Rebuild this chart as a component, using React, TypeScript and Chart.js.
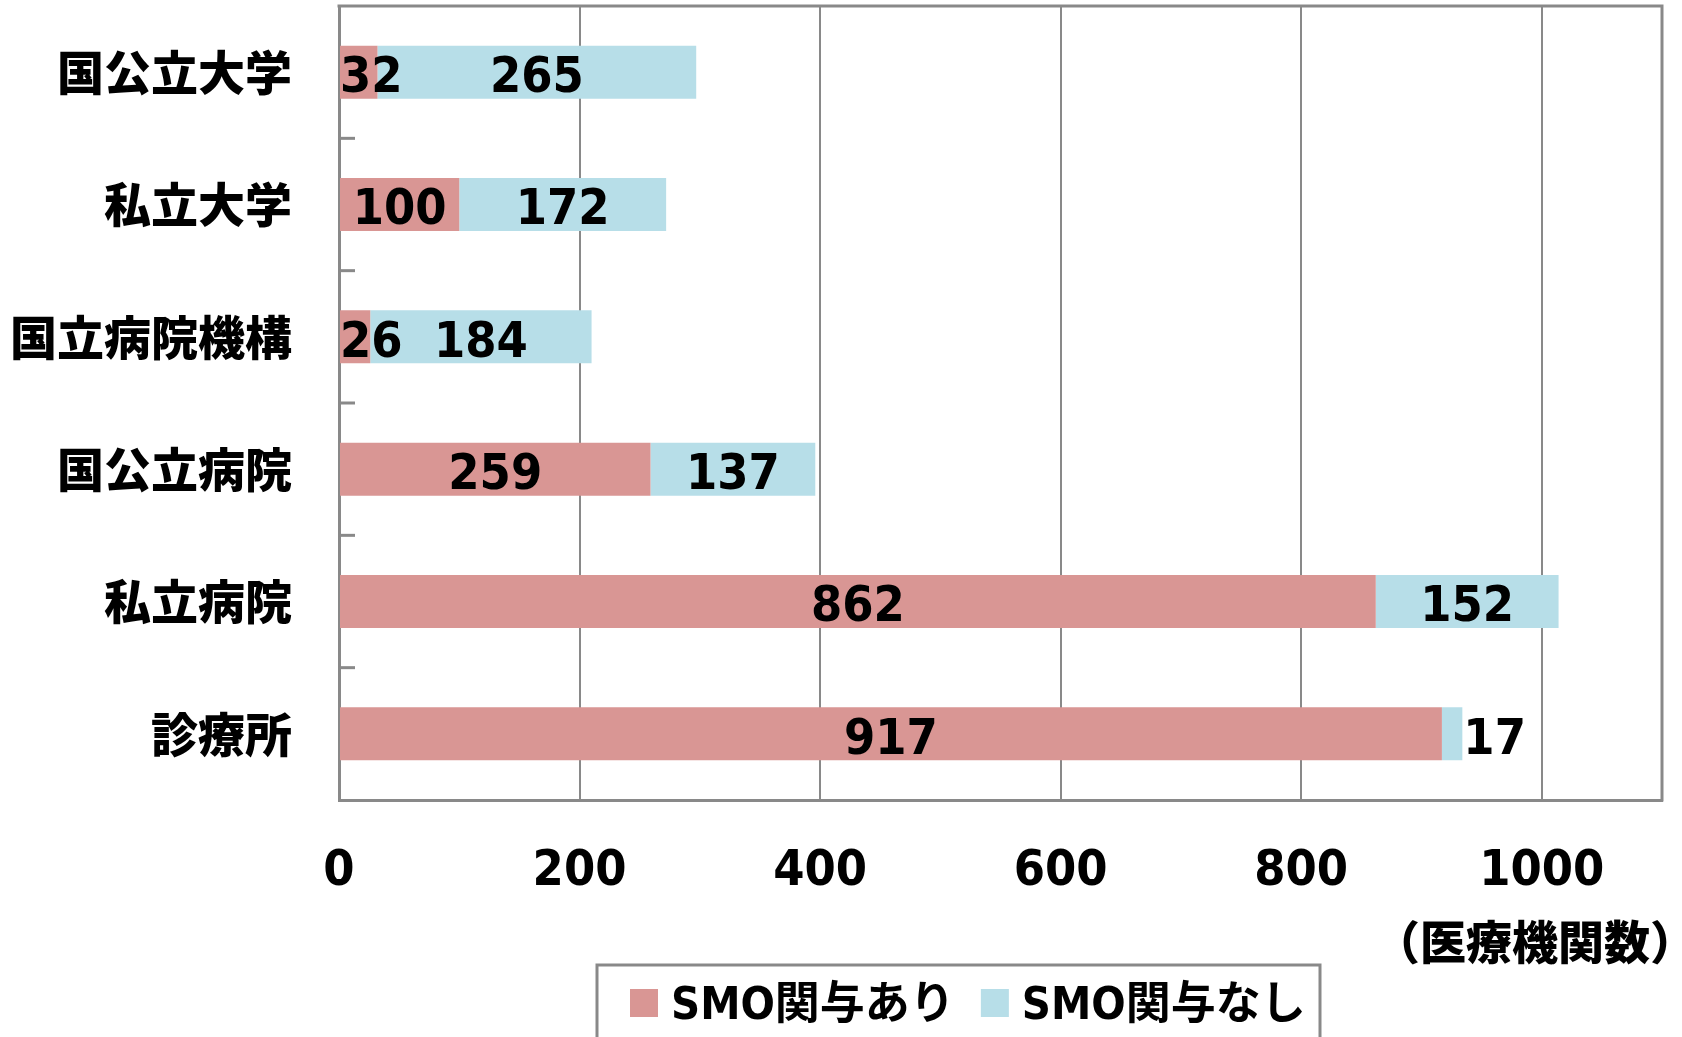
import React, { useEffect, useRef } from 'react';
import { Chart, registerables } from 'chart.js';

Chart.register(...registerables);

// ---- data ----
const categories = ['国公立大学', '私立大学', '国立病院機構', '国公立病院', '私立病院', '診療所'];
const withSMO = [32, 100, 26, 259, 862, 917];
const withoutSMO = [265, 172, 184, 137, 152, 17];
const seriesLabels = ['SMO関与あり', 'SMO関与なし'];
const seriesColors = ['#D99694', '#B7DEE8'];
const xTickValues = [0, 200, 400, 600, 800, 1000];
const xMin = 0;
const xMax = 1100;
const unitLabel = '（医療機関数）';

// ---- styles ----
const LATIN = '"DejaVu Sans Condensed", "DejaVu Sans", "Noto Sans CJK JP", sans-serif';
const CJK = '"Noto Sans CJK JP", sans-serif';
const GRAY = '#898989';

const decorPlugin = {
  id: 'decor',
  afterDatasetsDraw(chart: any) {
    const { ctx, chartArea: ca } = chart;
    ctx.save();
    ctx.font = `bold 50px ${LATIN}`;
    ctx.fillStyle = '#000';
    ctx.textBaseline = 'middle';
    ctx.textAlign = 'left';
    const nDs = chart.data.datasets.length;
    chart.data.datasets.forEach((ds: any, di: number) => {
      const meta = chart.getDatasetMeta(di);
      meta.data.forEach((bar: any, i: number) => {
        const v = ds.data[i];
        const text = String(v);
        const w = ctx.measureText(text).width;
        const left = Math.min(bar.x, bar.base);
        const right = Math.max(bar.x, bar.base);
        let tx = (left + right) / 2 - w / 2;
        if (w > right - left) {
          if (di === nDs - 1) tx = right + 1;
          else tx = Math.max(tx, ca.left + 1);
        }
        ctx.fillText(text, tx, bar.y + 7);
      });
    });
    ctx.restore();
  },
  afterDraw(chart: any) {
    const { ctx, chartArea: ca, scales } = chart;
    const y = scales.y;
    ctx.save();
    ctx.strokeStyle = GRAY;
    ctx.lineWidth = 3;
    // top & right frame
    ctx.beginPath();
    ctx.moveTo(ca.left - 1.5, ca.top);
    ctx.lineTo(ca.right, ca.top);
    ctx.lineTo(ca.right, ca.bottom + 1.5);
    ctx.stroke();
    // inward category tick marks
    for (let i = 1; i < categories.length; i++) {
      const py = (y.getPixelForValue(i - 1) + y.getPixelForValue(i)) / 2;
      ctx.beginPath();
      ctx.moveTo(ca.left, py);
      ctx.lineTo(ca.left + 16, py);
      ctx.stroke();
    }
    // unit label
    ctx.fillStyle = '#000';
    ctx.font = `900 46px ${CJK}`;
    ctx.textAlign = 'center';
    ctx.textBaseline = 'middle';
    ctx.fillText(unitLabel, 1535, 942);

    // legend
    const boxL = 597, boxR = 1320, boxT = 965, boxB = 1045;
    ctx.strokeRect(boxL, boxT, boxR - boxL, boxB - boxT);
    ctx.font = `bold 45px ${LATIN}`;
    ctx.textAlign = 'left';
    let x = 630;
    chart.data.datasets.forEach((ds: any) => {
      ctx.fillStyle = ds.backgroundColor;
      ctx.fillRect(x, 989, 28, 28);
      ctx.fillStyle = '#000';
      const tx = x + 41;
      ctx.fillText(ds.label, tx, 1007);
      x = tx + ctx.measureText(ds.label).width + 26;
    });
    ctx.restore();
  },
};

export default function App() {
  const ref = useRef<HTMLCanvasElement | null>(null);

  useEffect(() => {
    document.body.style.margin = '0';
    const canvas = ref.current;
    if (!canvas) return;
    const chart = new Chart(canvas, {
      type: 'bar',
      data: {
        labels: categories,
        datasets: [
          { label: seriesLabels[0], data: withSMO, backgroundColor: seriesColors[0], categoryPercentage: 1, barPercentage: 0.4 },
          { label: seriesLabels[1], data: withoutSMO, backgroundColor: seriesColors[1], categoryPercentage: 1, barPercentage: 0.4 },
        ],
      },
      options: {
        indexAxis: 'y',
        responsive: false,
        animation: false,
        events: [],
        layout: { padding: { top: 6, right: 20, left: 0, bottom: 0 } },
        plugins: {
          legend: { display: false },
          tooltip: { enabled: false },
          title: { display: false },
        },
        scales: {
          x: {
            type: 'linear',
            stacked: true,
            min: xMin,
            max: xMax,
            afterBuildTicks: (s: any) => {
              s.ticks = xTickValues.map((v) => ({ value: v }));
            },
            afterFit: (s: any) => {
              s.height = 237;
              s.paddingLeft = 0;
              s.paddingRight = 0;
              s.paddingTop = 0;
              s.paddingBottom = 0;
            },
            grid: { color: GRAY, lineWidth: 2, drawTicks: false },
            border: { color: GRAY, width: 3 },
            ticks: {
              font: { family: LATIN, size: 50, weight: 'bold' },
              color: '#000',
              padding: 42,
              maxRotation: 0,
              autoSkip: false,
              callback: (v: any) => String(v),
            },
          },
          y: {
            type: 'category',
            stacked: true,
            afterFit: (s: any) => {
              s.width = 339;
              s.paddingLeft = 0;
              s.paddingRight = 0;
              s.paddingTop = 0;
              s.paddingBottom = 0;
            },
            grid: { display: true, drawOnChartArea: false, drawTicks: false },
            border: { color: GRAY, width: 3 },
            ticks: {
              font: { family: CJK, size: 47, weight: '900' },
              color: '#000',
              padding: 47,
            },
          },
        },
      } as any,
      plugins: [decorPlugin],
    });
    return () => chart.destroy();
  }, []);

  return (
    <div style={{ width: 1682, height: 1037, background: '#fff' }}>
      <canvas ref={ref} width={1682} height={1037} style={{ display: 'block' }} />
    </div>
  );
}
